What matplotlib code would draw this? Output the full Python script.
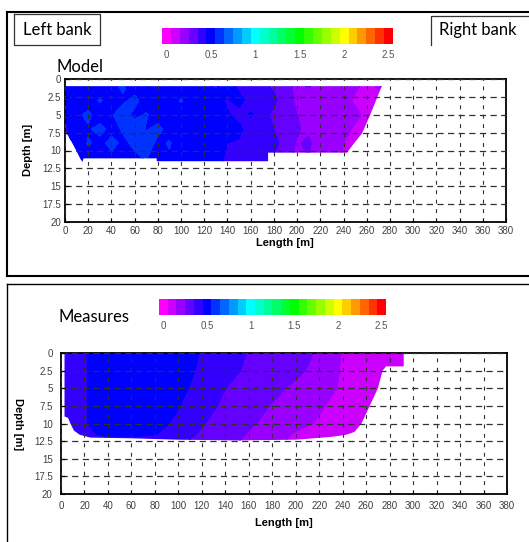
import numpy as np
import matplotlib
matplotlib.use('Agg')
import matplotlib.pyplot as plt
from matplotlib.colors import ListedColormap, BoundaryNorm
from matplotlib.patches import Polygon
from matplotlib.lines import Line2D

plt.rcParams['font.family'] = ['Liberation Sans', 'DejaVu Sans']

# colour scale: one colour per 0.1 m/s, from 0 to 2.5
scale_colors = ['#ff00ff', '#cc00ff', '#9900ff', '#6600ff', '#3300ff', '#0000ff',
                '#0033ff', '#0066ff', '#0099ff', '#00ccff', '#00ffff', '#00ffcc',
                '#00ff99', '#00ff66', '#00ff33', '#00ff00', '#33ff00', '#66ff00',
                '#99ff00', '#ccff00', '#ffff00', '#ffcc00', '#ff9900', '#ff6600',
                '#ff3300', '#ff0000']
scale_ticks = [0, 0.5, 1, 1.5, 2, 2.5]
scale_labels = ['0', '0.5', '1', '1.5', '2', '2.5']

length_ticks = list(range(0, 381, 20))
depth_ticks = [0, 2.5, 5, 7.5, 10, 12.5, 15, 17.5, 20]
depth_labels = ['0', '2.5', '5', '7.5', '10', '12.5', '15', '17.5', '20']

# model section
model_x = list(range(0, 281, 10))
model_depth = [1, 3, 5, 7, 9, 11.5]
model_speed = [
    [0.44, 0.50, 0.53, 0.49, 0.52, 0.57, 0.50, 0.53, 0.48, 0.52, 0.50, 0.53, 0.47, 0.44, 0.49,
     0.43, 0.45, 0.38, 0.33, 0.30, 0.22, 0.26, 0.18, 0.20, 0.14, 0.17, 0.12, 0.16, 0.12],
    [0.47, 0.52, 0.50, 0.56, 0.51, 0.53, 0.58, 0.50, 0.54, 0.49, 0.56, 0.50, 0.52, 0.47, 0.44,
     0.48, 0.41, 0.36, 0.38, 0.27, 0.24, 0.19, 0.23, 0.16, 0.19, 0.13, 0.15, 0.12, 0.13],
    [0.45, 0.53, 0.57, 0.50, 0.54, 0.60, 0.52, 0.56, 0.50, 0.53, 0.50, 0.55, 0.48, 0.51, 0.46,
     0.42, 0.46, 0.40, 0.32, 0.34, 0.25, 0.21, 0.17, 0.22, 0.14, 0.18, 0.12, 0.14, 0.12],
    [0.43, 0.50, 0.54, 0.58, 0.52, 0.56, 0.63, 0.54, 0.58, 0.51, 0.54, 0.49, 0.53, 0.46, 0.50,
     0.47, 0.40, 0.42, 0.35, 0.29, 0.26, 0.23, 0.20, 0.16, 0.19, 0.13, 0.15, 0.12, 0.12],
    [0.42, 0.48, 0.56, 0.52, 0.58, 0.53, 0.57, 0.61, 0.52, 0.56, 0.49, 0.52, 0.47, 0.50, 0.45,
     0.44, 0.43, 0.37, 0.38, 0.31, 0.24, 0.27, 0.18, 0.20, 0.15, 0.13, 0.16, 0.12, 0.12],
    [0.42, 0.46, 0.50, 0.54, 0.51, 0.55, 0.52, 0.55, 0.50, 0.53, 0.47, 0.50, 0.46, 0.48, 0.43,
     0.45, 0.41, 0.39, 0.33, 0.28, 0.22, 0.24, 0.19, 0.17, 0.14, 0.15, 0.12, 0.12, 0.12],
]
model_edge_x = [0, 273, 263, 256, 250, 243, 175, 175, 79, 79, 16, 15, 13, 10, 5.7, 1.4, 0]
model_edge_d = [1.0, 1.0, 5.0, 7.6, 8.8, 10.3, 10.3, 11.5, 11.5, 11.1, 11.1, 11.6, 11.1,
                10.1, 8.8, 7.6, 7.2]

# measured section
meas_x = list(range(0, 301, 20))
meas_depth = [0, 2.5, 5, 7.5, 10, 11.5, 12.5]
meas_speed = [
    [0.40, 0.44, 0.52, 0.54, 0.54, 0.52, 0.44, 0.39, 0.345, 0.31, 0.28, 0.24, 0.14, 0.11, 0.10, 0.10],
    [0.40, 0.44, 0.52, 0.54, 0.54, 0.50, 0.43, 0.38, 0.334, 0.30, 0.27, 0.22, 0.14, 0.11, 0.10, 0.10],
    [0.40, 0.44, 0.52, 0.54, 0.53, 0.48, 0.41, 0.35, 0.313, 0.275, 0.23, 0.18, 0.14, 0.11, 0.10, 0.10],
    [0.40, 0.44, 0.52, 0.53, 0.52, 0.455, 0.39, 0.33, 0.287, 0.244, 0.20, 0.16, 0.12, 0.10, 0.10, 0.10],
    [0.40, 0.44, 0.51, 0.52, 0.48, 0.43, 0.357, 0.31, 0.264, 0.22, 0.178, 0.14, 0.11, 0.10, 0.10, 0.10],
    [0.40, 0.43, 0.47, 0.47, 0.455, 0.40, 0.336, 0.29, 0.243, 0.193, 0.14, 0.12, 0.10, 0.10, 0.10, 0.10],
    [0.40, 0.41, 0.42, 0.42, 0.41, 0.37, 0.32, 0.28, 0.23, 0.18, 0.13, 0.11, 0.10, 0.10, 0.10, 0.10],
]
meas_edge_x = [3, 292, 292, 277, 274, 270, 263, 256, 250, 243, 230, 200, 150, 100, 60, 25, 16,
               11, 8, 6, 3]
meas_edge_d = [0, 0, 1.9, 1.9, 2.5, 5, 7.5, 10, 11.2, 11.6, 11.9, 12.3, 12.4, 12.3, 12.1, 12.0,
               11.6, 11.0, 10.0, 9.2, 9.0]

cmap = ListedColormap(scale_colors)
bounds = np.arange(len(scale_colors) + 1) * 0.1 - 0.05
norm = BoundaryNorm(bounds, cmap.N)

W, H = 529, 542
fig = plt.figure(figsize=(W / 100, H / 100), dpi=100)


def box(px_left, px_top, px_w, px_h):
    return [px_left / W, 1 - (px_top + px_h) / H, px_w / W, px_h / H]


def scale_bar(rect):
    cax = fig.add_axes(rect)
    cax.imshow(np.arange(len(scale_colors))[None, :], cmap=cmap, aspect='auto',
               extent=[-0.05, len(scale_colors) * 0.1 - 0.05, 0, 1])
    cax.set_xticks(scale_ticks)
    cax.set_xticklabels(scale_labels)
    cax.set_yticks([])
    cax.tick_params(axis='x', length=0, pad=4, labelsize=7, labelcolor='#555555')
    for s in cax.spines.values():
        s.set_visible(False)


def section(rect, xs, ds, speed, edge_x, edge_d, pad_x, pad_y):
    ax = fig.add_axes(rect)
    outline = Polygon(np.column_stack([edge_x, edge_d]), closed=True,
                      facecolor='none', edgecolor='none')
    ax.add_patch(outline)
    cs = ax.contourf(xs, ds, np.array(speed), levels=bounds, cmap=cmap, norm=norm)
    cs.set_clip_path(outline)
    ax.set_xlim(0, 380)
    ax.set_ylim(20, 0)
    ax.set_xticks(length_ticks)
    ax.set_yticks(depth_ticks)
    ax.set_yticklabels(depth_labels)
    ax.set_axisbelow(False)
    ax.yaxis.grid(True, color='#303030', lw=0.9, ls=(0, (5, 3.5)))
    ax.xaxis.grid(True, color='#303030', lw=0.8, ls=(0, (3.5, 5)))
    ax.tick_params(direction='in', length=3, width=0.8, labelsize=7, labelcolor='#404040')
    ax.tick_params(axis='x', pad=pad_x)
    ax.tick_params(axis='y', pad=pad_y)
    for s in ax.spines.values():
        s.set_linewidth(1.3)
    return ax


# top panel: model
fig.add_artist(Line2D([7 / W, 1.0], [1 - 12 / H, 1 - 12 / H], color='black', lw=1.5))
fig.add_artist(Line2D([7 / W, 1.0], [1 - 276 / H, 1 - 276 / H], color='black', lw=1.5))
fig.add_artist(Line2D([7 / W, 7 / W], [1 - 12 / H, 1 - 276 / H], color='black', lw=1.5))

fig.add_artist(Line2D([14 / W, 100 / W, 100 / W, 14 / W, 14 / W],
                      [1 - 14 / H, 1 - 14 / H, 1 - 45 / H, 1 - 45 / H, 1 - 14 / H],
                      color='#333333', lw=0.9))
fig.text(57 / W, 1 - 30 / H, 'Left bank', family=['Lato', 'DejaVu Sans'], fontsize=12,
         ha='center', va='center')
fig.add_artist(Line2D([431 / W, 431 / W, 1.0], [1 - 45 / H, 1 - 16 / H, 1 - 16 / H],
                      color='#333333', lw=0.9))
fig.text(478 / W, 1 - 30 / H, 'Right bank', family=['Lato', 'DejaVu Sans'], fontsize=12,
         ha='center', va='center')

scale_bar(box(162, 28, 231, 16))
fig.text(80 / W, 1 - 67 / H, 'Model', family=['Lato', 'DejaVu Sans'], fontsize=12,
         ha='center', va='center')

section(box(65, 79, 441, 143), model_x, model_depth, model_speed,
        model_edge_x, model_edge_d, pad_x=3, pad_y=3)
fig.text(28 / W, 1 - 150 / H, 'Depth [m]', fontsize=8, fontweight='bold',
         rotation=90, ha='center', va='center')
fig.text(285 / W, 1 - 243 / H, 'Length [m]', fontsize=8, fontweight='bold',
         ha='center', va='center')

# bottom panel: measures
fig.add_artist(Line2D([7 / W, 1.0], [1 - 284 / H, 1 - 284 / H], color='black', lw=1))
fig.add_artist(Line2D([7 / W, 7 / W], [1 - 284 / H, 0], color='black', lw=1))

scale_bar(box(159, 299, 227, 16))
fig.text(94 / W, 1 - 317 / H, 'Measures', family=['Lato', 'DejaVu Sans'], fontsize=12,
         ha='center', va='center')

section(box(61, 353, 446, 141), meas_x, meas_depth, meas_speed,
        meas_edge_x, meas_edge_d, pad_x=5, pad_y=6)
fig.text(18 / W, 1 - 424 / H, 'Depth [m]', fontsize=8, fontweight='bold',
         rotation=270, ha='center', va='center')
fig.text(284 / W, 1 - 523 / H, 'Length [m]', fontsize=8, fontweight='bold',
         ha='center', va='center')

fig.savefig('out.png', dpi=100)
